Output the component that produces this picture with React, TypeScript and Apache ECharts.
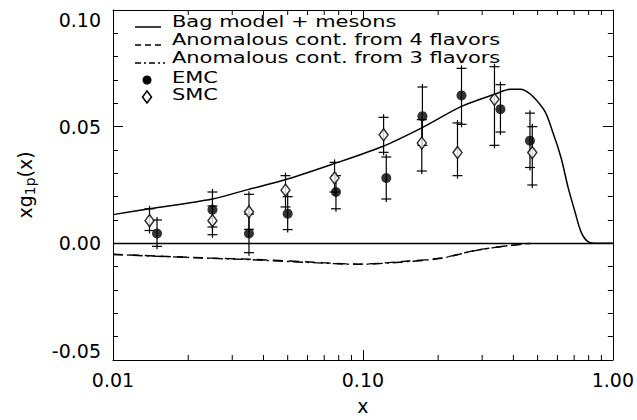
import React, { useEffect, useRef } from "react";
import * as echarts from "echarts";

// Bag model + mesons curve
const bagX = [0.01, 0.014, 0.025, 0.034, 0.048, 0.075, 0.119, 0.172, 0.248, 0.339, 0.389, 0.426, 0.526, 0.577, 0.621, 0.662, 0.706, 0.746, 0.795, 0.872, 1.0];
const bagY = [0.0123, 0.0148, 0.019, 0.0228, 0.027, 0.0338, 0.0414, 0.0495, 0.0587, 0.064, 0.066, 0.066, 0.0578, 0.0472, 0.0366, 0.024, 0.0134, 0.0049, 0.0007, 0, 0];

// Anomalous contribution curves
const anom4X = [0.01, 0.0243, 0.0351, 0.061, 0.0964, 0.152, 0.206, 0.282, 0.382, 0.471];
const anom4Y = [-0.0047, -0.0063, -0.0068, -0.008, -0.0089, -0.0076, -0.0063, -0.003, -0.001, 0];
const anom3X = [0.01, 0.0243, 0.0351, 0.061, 0.0964, 0.152, 0.206, 0.282, 0.382, 0.471];
const anom3Y = [-0.0048, -0.0064, -0.007, -0.0082, -0.009, -0.0078, -0.0064, -0.0031, -0.001, 0];

// EMC data
const emcX = [0.015, 0.025, 0.035, 0.05, 0.078, 0.124, 0.173, 0.248, 0.355, 0.466];
const emcY = [0.0042, 0.0144, 0.0042, 0.0127, 0.022, 0.028, 0.0545, 0.0634, 0.0575, 0.044];
const emcLo = [-0.0013, 0.007, -0.004, 0.0059, 0.0148, 0.019, 0.042, 0.051, 0.0477, 0.0325];
const emcHi = [0.010, 0.022, 0.0125, 0.020, 0.029, 0.037, 0.067, 0.075, 0.068, 0.0558];

// SMC data
const smcX = [0.014, 0.025, 0.035, 0.049, 0.077, 0.121, 0.172, 0.239, 0.336, 0.476];
const smcY = [0.0097, 0.0097, 0.0135, 0.0228, 0.028, 0.0465, 0.043, 0.0389, 0.0617, 0.0389];
const smcLo = [0.0055, 0.0037, 0.006, 0.0156, 0.022, 0.039, 0.031, 0.029, 0.042, 0.025];
const smcHi = [0.0148, 0.016, 0.021, 0.029, 0.0347, 0.054, 0.053, 0.0516, 0.0757, 0.050];

// axes
const xMin = 0.01;
const xMax = 1.0;
const yMin = -0.05;
const yMax = 0.1;
const yStep = 0.05;
const xMinorTicks = [0.02, 0.03, 0.04, 0.05, 0.06, 0.07, 0.08, 0.09, 0.2, 0.3, 0.4, 0.5, 0.6, 0.7, 0.8, 0.9];

const legendLabels = [
  "Bag model + mesons",
  "Anomalous cont. from 4 flavors",
  "Anomalous cont. from 3 flavors",
  "EMC",
  "SMC",
];

const FONT = "DejaVu Sans";

const zip = (xs: number[], ys: number[]) => xs.map((x, i) => [x, ys[i]]);

const errBarRender = (params: any, api: any) => {
  const x = api.value(0);
  const lo = api.value(1);
  const hi = api.value(2);
  const pLo = api.coord([x, lo]);
  const pHi = api.coord([x, hi]);
  const ext = 3;
  const cap = 5;
  const st = { stroke: "#000", lineWidth: 1.2 };
  return {
    type: "group",
    children: [
      { type: "line", shape: { x1: pLo[0], y1: pLo[1] + ext, x2: pHi[0], y2: pHi[1] - ext }, style: st },
      { type: "line", shape: { x1: pLo[0] - cap, y1: pLo[1], x2: pLo[0] + cap, y2: pLo[1] }, style: st },
      { type: "line", shape: { x1: pHi[0] - cap, y1: pHi[1], x2: pHi[0] + cap, y2: pHi[1] }, style: st },
    ],
  };
};

const minorTickRender = (params: any, api: any) => {
  const x = api.value(0);
  const pb = api.coord([x, yMin]);
  const pt = api.coord([x, yMax]);
  const st = { stroke: "#000", lineWidth: 1 };
  return {
    type: "group",
    children: [
      { type: "line", shape: { x1: pb[0], y1: pb[1], x2: pb[0], y2: pb[1] - 5 }, style: st },
      { type: "line", shape: { x1: pt[0], y1: pt[1], x2: pt[0], y2: pt[1] + 5 }, style: st },
    ],
  };
};

export default function App() {
  const ref = useRef<HTMLDivElement>(null);
  useEffect(() => {
    if (!ref.current) return;
    const chart = echarts.init(ref.current, undefined, { renderer: "svg" });
    const axisLine = { show: true, onZero: false, lineStyle: { color: "#000", width: 1 } };
    const legendX0 = 135;
    const legendX1 = 161;
    const textX = 172;
    const rowY = [21, 39, 57, 77, 94];
    const lineY = rowY.map((y) => y + 6);
    const txt = (i: number) => ({
      type: "text",
      x: textX,
      y: rowY[i],
      scaleX: 1.31,
      style: { text: legendLabels[i], font: `16px '${FONT}'`, fill: "#000", verticalAlign: "middle", align: "left" },
      silent: true,
    });
    const option: any = {
      animation: false,
      backgroundColor: "#fff",
      textStyle: { fontFamily: FONT },
      grid: { left: 113, right: 22, top: 10, bottom: 55, containLabel: false },
      xAxis: [
        {
          type: "log",
          logBase: 10,
          min: xMin,
          max: xMax,
          name: "x",
          nameLocation: "middle",
          nameGap: 36,
          nameTextStyle: { fontSize: 19, color: "#000", fontFamily: FONT },
          axisLine,
          axisTick: { show: true, inside: true, length: 10, lineStyle: { color: "#000" } },
          axisLabel: { show: true, color: "#000", fontSize: 19, fontFamily: FONT, margin: 10, formatter: (v: number) => v.toFixed(2) },
          splitLine: { show: false },
        },
        {
          type: "log",
          logBase: 10,
          min: xMin,
          max: xMax,
          position: "top",
          axisLine,
          axisTick: { show: true, inside: true, length: 10, lineStyle: { color: "#000" } },
          axisLabel: { show: false },
          splitLine: { show: false },
        },
      ],
      yAxis: [
        {
          type: "value",
          min: yMin,
          max: yMax,
          interval: yStep,
          name: "{n|xg}{s|1p}{n|(x)}",
          nameLocation: "middle",
          nameGap: 76,
          nameRotate: 90,
          nameTextStyle: {
            color: "#000",
            rich: {
              n: { fontSize: 19, fontFamily: FONT, color: "#000" },
              s: { fontSize: 14, fontFamily: FONT, color: "#000", padding: [10, 0, 0, 0] },
            },
          },
          axisLine,
          axisTick: { show: true, inside: true, length: 10, lineStyle: { color: "#000" } },
          minorTick: { show: true, splitNumber: 5, length: 5, lineStyle: { color: "#000" } },
          axisLabel: {
            show: true,
            color: "#000",
            fontSize: 19,
            fontFamily: FONT,
            margin: 12,
            verticalAlignMaxLabel: "top",
            verticalAlignMinLabel: "bottom",
            formatter: (v: number) => v.toFixed(2),
          },
          splitLine: { show: false },
        },
        {
          type: "value",
          min: yMin,
          max: yMax,
          interval: yStep,
          position: "right",
          axisLine,
          axisTick: { show: true, inside: true, length: 10, lineStyle: { color: "#000" } },
          minorTick: { show: true, splitNumber: 5, length: 5, lineStyle: { color: "#000" } },
          axisLabel: { show: false },
          splitLine: { show: false },
        },
      ],
      series: [
        {
          name: legendLabels[0],
          type: "line",
          data: zip(bagX, bagY),
          smooth: 0.3,
          symbol: "none",
          lineStyle: { color: "#000", width: 1.5 },
          markLine: {
            silent: true,
            symbol: "none",
            label: { show: false },
            lineStyle: { color: "#000", type: "solid", width: 1.3 },
            data: [{ yAxis: 0 }],
          },
        },
        {
          name: legendLabels[1],
          type: "line",
          data: zip(anom4X, anom4Y),
          smooth: 0.3,
          symbol: "none",
          lineStyle: { color: "#000", width: 1.4, type: [10, 6] },
        },
        {
          name: legendLabels[2],
          type: "line",
          data: zip(anom3X, anom3Y),
          smooth: 0.3,
          symbol: "none",
          lineStyle: { color: "#000", width: 1.4, type: [10, 4, 2, 4] },
        },
        {
          name: "EMC errors",
          type: "custom",
          renderItem: errBarRender,
          data: emcX.map((x, i) => [x, emcLo[i], emcHi[i]]),
          encode: { x: 0, y: [1, 2] },
          z: 3,
        },
        {
          name: "SMC errors",
          type: "custom",
          renderItem: errBarRender,
          data: smcX.map((x, i) => [x, smcLo[i], smcHi[i]]),
          encode: { x: 0, y: [1, 2] },
          z: 3,
        },
        {
          name: legendLabels[3],
          type: "scatter",
          data: zip(emcX, emcY),
          symbol: "circle",
          symbolSize: 10,
          itemStyle: { color: "#000" },
          z: 5,
        },
        {
          name: legendLabels[4],
          type: "scatter",
          data: zip(smcX, smcY),
          symbol: "diamond",
          symbolSize: [9, 12],
          itemStyle: { color: "#fff", borderColor: "#000", borderWidth: 1.5 },
          z: 5,
        },
        {
          name: "minor ticks",
          type: "custom",
          renderItem: minorTickRender,
          data: xMinorTicks.map((x) => [x]),
          encode: { x: 0 },
          clip: false,
          silent: true,
        },
      ],
      graphic: [
        { type: "line", shape: { x1: legendX0, y1: lineY[0], x2: legendX1, y2: lineY[0] }, style: { stroke: "#000", lineWidth: 1.5 } },
        { type: "line", shape: { x1: legendX0, y1: lineY[1], x2: legendX1 + 4, y2: lineY[1] }, style: { stroke: "#000", lineWidth: 1.4, lineDash: [6, 4] } },
        { type: "line", shape: { x1: legendX0, y1: lineY[2], x2: legendX1 + 4, y2: lineY[2] }, style: { stroke: "#000", lineWidth: 1.4, lineDash: [6, 3, 2, 3] } },
        { type: "circle", shape: { cx: 147, cy: rowY[3] + 3, r: 4.5 }, style: { fill: "#000" } },
        { type: "polygon", shape: { points: [[147, rowY[4] - 3], [151.5, rowY[4] + 3], [147, rowY[4] + 9], [142.5, rowY[4] + 3]] }, style: { fill: "#fff", stroke: "#000", lineWidth: 1.5 } },
        txt(0),
        txt(1),
        txt(2),
        txt(3),
        txt(4),
      ],
    };
    chart.setOption(option);
    return () => chart.dispose();
  }, []);
  return <div ref={ref} style={{ position: "fixed", left: 0, top: 0, width: 637, height: 420, background: "#fff" }} />;
}
